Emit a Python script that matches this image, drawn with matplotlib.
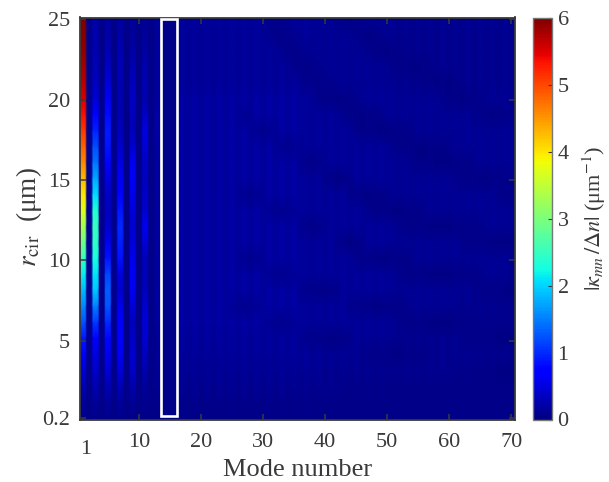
import numpy as np
import matplotlib
matplotlib.use("Agg")
import matplotlib.pyplot as plt
from matplotlib.patches import Rectangle

plt.rcParams['font.family'] = ['Liberation Serif', 'DejaVu Serif']
plt.rcParams['mathtext.fontset'] = 'stix'

W, H = 609, 482
INK = '#3a3a3a'

# |kappa_mn / dn| in hundredths of 1/um. Rows: r_cir from 25 down to 0.2 in about 1 um steps.
# Columns: mode number 1..70.
r_top, r_bottom = 25.0, 0.2
kappa_hundredths = [
 [600,8,22,6,18,6,18,6,14,6,14,6,16,6,5,6, 15,12,15,12, 15,12,15,12,15,12,15,12,15,10, 8,7,8,10,15,12,15,11,14,11, 14,8,5,4,5,8,14,11,14,11, 11,9,11,9,11,9,11,9,11,9, 11,9,11,9,11,9,11,9,11,9],
 [595,8,24,6,22,6,22,6,16,6,16,6,16,6,5,6, 15,12,15,12, 15,12,15,12,15,12,15,12,15,12, 10,8,7,8,10,12,15,11,14,11, 14,11,14,11,8,5,4,5,8,11, 11,9,11,9,11,9,11,9,11,9, 11,9,11,9,11,9,11,9,11,9],
 [590,8,26,6,28,6,26,6,20,6,20,6,18,6,5,6, 15,12,15,12, 15,12,15,12,15,12,15,12,15,12, 15,12,10,8,7,8,10,11,14,11, 14,11,14,11,14,11,8,6,5,4, 5,6,8,9,11,9,11,9,11,9, 11,9,11,9,11,9,11,9,11,9],
 [580,8,30,6,36,6,30,6,26,6,24,6,18,6,6,6, 15,12,15,12, 15,12,15,12,15,12,15,12,15,12, 15,12,15,10,9,8,7,8,9,10, 14,11,14,11,14,11,14,11,14,11, 8,6,5,4,4,5,6,8,11,9, 11,9,11,9,11,9,11,9,11,9],
 [570,8,34,6,48,6,26,6,32,6,26,6,18,6,6,6, 15,12,15,12, 15,12,15,12,15,12,15,12,15,12, 15,12,15,12,15,10,9,8,7,8, 9,10,14,11,14,11,14,11,14,11, 11,9,11,9,8,6,5,4,5,4, 6,8,11,9,11,9,11,9,11,9],
 [555,8,45,8,65,8,24,6,36,6,24,6,18,6,6,6, 20,15,20,15, 20,15,20,15,20,15,20,15,20,15, 20,15,20,15,20,15,16,12,8,6, 5,4,5,6,8,12,16,12,16,12, 12,10,12,10,12,10,12,10,8,6, 5,4,5,6,8,10,12,10,12,10],
 [535,8,70,8,80,8,26,6,32,6,36,6,20,6,6,6, 20,15,20,15, 20,15,20,15,20,14,11,14,20,15, 20,15,20,15,20,15,16,12,16,12, 16,12,8,6,5,4,5,6,8,12, 12,10,12,10,12,10,12,10,12,10, 12,10,12,8,6,5,4,5,6,8],
 [510,8,95,8,90,8,32,6,30,6,50,6,20,6,6,6, 20,15,20,15, 20,15,20,15,20,15,20,12,10,9, 10,12,20,15,20,15,16,12,16,12, 16,12,16,12,8,7,6,5,4,4, 5,6,7,8,12,10,12,10,12,10, 12,10,12,10,12,10,12,10,12,10],
 [485,8,120,8,88,8,42,6,42,6,46,6,18,6,6,6, 20,15,20,15, 20,15,20,15,20,15,20,15,20,15, 20,12,10,8,10,12,16,12,16,12, 16,12,16,12,16,12,16,12,16,12, 8,7,6,5,4,4,5,6,7,8, 12,10,12,10,12,10,12,10,12,10],
 [460,8,145,8,75,8,52,6,60,6,36,6,18,6,6,6, 20,15,20,15, 20,15,20,15,20,15,20,15,20,15, 20,15,20,15,20,11,9,7,9,11, 16,12,16,12,16,12,16,12,16,12, 12,10,12,8,7,6,5,4,4,4, 5,6,7,8,12,10,12,10,12,10],
 [430,8,175,8,50,8,62,6,62,6,34,6,18,6,6,6, 20,15,20,15, 20,15,20,15,20,15,20,15,20,15, 20,15,20,15,20,15,16,12,16,8, 6,4,6,8,16,12,16,12,16,12, 12,10,12,10,12,10,12,10,12,10, 8,7,6,5,4,4,5,6,7,8],
 [400,8,205,8,38,8,75,6,54,6,38,6,18,6,6,6, 20,15,20,15, 20,15,20,15,20,12,10,9,10,12, 20,15,20,15,20,15,16,12,16,12, 16,12,16,8,7,5,4,5,7,8, 12,10,12,10,12,10,12,10,12,10, 12,10,12,10,12,10,12,8,7,6],
 [370,8,235,8,35,8,88,6,48,6,42,6,18,6,6,6, 20,15,20,15, 20,15,20,15,20,15,20,15,20,15, 12,10,8,10,12,15,16,12,16,12, 16,12,16,12,16,12,8,7,6,5, 4,4,5,6,7,8,12,10,12,10, 12,10,12,10,12,10,12,10,12,10],
 [330,8,250,8,42,8,100,6,42,6,60,6,18,6,6,6, 20,15,20,15, 20,15,20,15,20,15,20,15,20,15, 20,15,20,15,20,11,9,7,9,11, 16,12,16,12,16,12,16,12,16,12, 12,8,7,6,5,5,4,4,4,4, 5,5,6,7,8,10,12,10,12,10],
 [290,8,245,8,60,8,92,6,48,6,45,6,18,6,6,6, 20,15,20,15, 20,15,20,15,20,15,20,15,20,15, 20,15,20,15,20,15,16,12,16,12, 16,8,6,4,6,8,16,12,16,12, 12,10,12,10,12,10,12,10,12,10, 12,8,7,6,5,5,4,4,4,4],
 [250,8,230,8,85,8,85,6,58,6,32,6,18,6,6,6, 20,15,20,15, 20,15,20,15,20,12,10,9,10,12, 20,15,20,15,20,15,16,12,16,12, 16,12,16,12,8,7,6,5,4,4, 5,6,7,8,12,10,12,10,12,10, 12,10,12,10,12,10,12,10,12,10],
 [215,8,210,8,115,8,50,6,62,6,30,6,18,6,6,6, 20,15,20,15, 20,15,20,15,20,15,20,15,20,15, 12,10,8,10,12,15,16,12,16,12, 16,12,16,12,16,12,16,12,16,12, 12,8,7,6,5,5,4,4,4,4, 5,5,6,7,8,10,12,10,12,8],
 [185,8,190,8,130,8,42,6,60,6,32,6,18,6,6,6, 20,15,20,15, 20,15,20,15,20,15,20,15,20,15, 20,15,20,15,20,11,9,8,7,7, 6,8,16,12,16,12,16,12,16,12, 12,10,12,10,12,10,12,10,12,10, 12,10,12,8,7,6,5,5,4,4],
 [155,8,150,8,125,8,58,6,45,6,40,6,18,6,6,6, 20,15,20,15, 20,15,20,15,12,10,9,10,12,15, 20,15,20,15,20,15,16,12,16,12, 16,12,16,8,7,6,5,4,4,5, 6,7,8,10,12,10,12,10,12,10, 10,8,10,8,10,8,10,8,10,8],
 [125,8,110,8,100,8,72,6,32,6,46,6,16,6,6,6, 20,15,20,15, 20,15,20,15,20,15,20,15,20,15, 12,10,8,10,12,15,16,12,16,12, 16,12,16,12,16,12,16,12,16,12, 12,8,7,6,5,5,4,4,4,4, 5,5,6,7,8,8,9,8,9,8],
 [90,8,72,8,78,8,76,6,36,6,44,6,14,6,6,6, 18,14,18,14, 18,14,18,14,18,14,18,14,18,14, 18,14,18,14,18,11,9,8,7,6, 4,5,6,8,14,11,14,11,14,11, 11,9,11,9,11,9,11,9,11,9, 11,8,7,6,6,5,5,4,4,4],
 [65,8,52,8,60,8,62,6,40,6,34,6,14,6,6,6, 16,12,16,12, 16,12,16,12,16,12,16,12,16,12, 16,12,16,12,16,12,15,11,15,11, 13,10,13,10,12,8,7,6,5,5, 4,4,5,5,6,7,8,9,10,8, 10,8,10,8,10,8,10,8,10,8],
 [45,8,40,8,46,8,48,6,38,6,24,6,12,6,6,6, 14,10,14,10, 14,10,14,10,14,10,14,10,14,10, 14,10,14,10,13,10,13,10,12,9, 11,9,11,9,11,9,11,9,11,9, 10,8,10,8,10,8,10,8,10,8, 9,7,8,6,6,5,5,4,4,4],
 [30,8,28,8,30,8,30,6,24,6,16,6,10,6,5,6, 12,8,12,8, 12,8,12,8,12,8,12,8,12,8, 12,8,12,8,11,8,11,8,10,8, 10,8,9,7,9,7,8,7,8,6, 7,6,7,6,7,6,7,6,7,6, 7,6,7,6,7,6,6,6,6,6],
 [16,6,16,6,16,6,16,6,12,6,10,6,8,6,5,6, 9,6,9,6, 9,6,9,6,9,6,9,6,9,6, 8,6,8,6,8,6,8,6,7,6, 7,6,7,6,7,6,7,5,6,5, 6,5,6,5,6,5,6,5,6,5, 6,5,6,5,6,5,6,5,6,5],
 [8,5,8,5,8,5,8,5,7,5,6,5,6,5,5,5, 6,5,6,5, 6,5,6,5,6,5,6,5,6,5, 6,5,6,5,6,5,6,5,6,5, 6,5,6,5,6,5,6,5,6,5, 5,5,5,5,5,5,5,5,5,5, 5,5,5,5,5,5,5,5,5,5],
]
x_ticks = [10, 20, 30, 40, 50, 60, 70]
y_ticks = [0.2, 5, 10, 15, 20, 25]
y_tick_labels = ['0.2', '5', '10', '15', '20', '25']
cbar_ticks = [0, 1, 2, 3, 4, 5, 6]
box_modes = (13.6, 16.1)
box_r = (0.3, 25.0)

kappa = np.array(kappa_hundredths) / 100.0
n_rows, n_modes = kappa.shape
modes = np.arange(1, n_modes + 1)
r_rows = np.linspace(r_top, r_bottom, n_rows)

def axes_px(l, t, r, b):
    return [l / W, 1 - b / H, (r - l) / W, (b - t) / H]

fig = plt.figure(figsize=(W / 100, H / 100), dpi=100)
ax = fig.add_axes(axes_px(80, 17.5, 514.5, 419.5))

# each mode is a flat-topped stripe, about one mode wide, smooth along r
x_verts = np.column_stack([modes - 0.36, modes + 0.36]).ravel()
x_verts[0] = 0.5
x_verts[-1] = n_modes + 0.5
c_verts = np.repeat(kappa, 2, axis=1)
im = ax.pcolormesh(x_verts, r_rows, c_verts, cmap='jet', vmin=0, vmax=6, shading='gouraud', rasterized=True)
ax.set_xlim(0.5, 70.5)
ax.set_ylim(0.1, 25.1)
ax.set_facecolor('#000080')
ax.set_xticks(x_ticks)
ax.set_yticks(y_ticks, y_tick_labels)
ax.tick_params(direction='in', top=True, right=True, length=4, width=1.1, color=INK,
               labelcolor=INK, labelsize=16)
ax.tick_params(axis='x', pad=10)
ax.tick_params(axis='y', pad=7)
for s in ax.spines.values():
    s.set_color(INK)
    s.set_linewidth(1.3)

ax.add_patch(Rectangle((box_modes[0], box_r[0]), box_modes[1] - box_modes[0], box_r[1] - box_r[0],
                       fill=False, ec='white', lw=1.9, clip_on=False, zorder=5))

fig.text(86 / W, 1 - 449 / H, '1', ha='center', va='center', fontsize=16, color=INK)
fig.text(298 / W, 1 - 470 / H, 'Mode number', ha='center', va='center', fontsize=19, color=INK)
fig.text(29 / W, 1 - 217 / H, r'$r_{\mathrm{cir}}$  (μm)', rotation=90, ha='center', va='center',
         fontsize=19.5, color=INK)

cax = fig.add_axes(axes_px(532.5, 18, 552, 419.5))
cb = fig.colorbar(im, cax=cax)
cb.set_ticks(cbar_ticks)
cax.tick_params(direction='in', length=3, width=0.8, color=INK, labelcolor=INK, labelsize=16, pad=4)
cb.outline.set_edgecolor('#777777')
cb.outline.set_linewidth(1)
fig.text(594 / W, 1 - 218 / H, r'$|\kappa_{mn}\,/\Delta n|$ (μm$^{-1}$)', rotation=90, ha='center', va='center',
         fontsize=16, color=INK)

fig.savefig('out.png', dpi=100)
